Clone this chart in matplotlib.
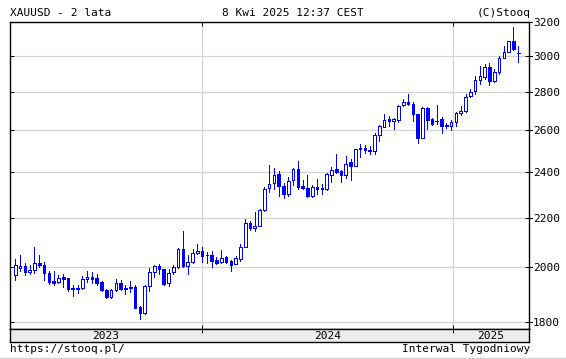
import matplotlib
matplotlib.use("Agg")
import matplotlib.pyplot as plt
from matplotlib.patches import Rectangle
import pandas as pd

# ---- data: weekly XAUUSD candles (week starting Monday) ----
first_week = "2023-04-03"
opens = [1970, 1997, 2005, 1982, 1988, 2016, 2010, 1978, 1947, 1943,
         1962, 1958, 1923, 1924, 1922, 1954, 1963, 1959, 1944, 1915,
         1890, 1914, 1941, 1918, 1922, 1925, 1852, 1833, 1930, 1981,
         2006, 1994, 1939, 1981, 2002, 2073, 2005, 2019, 2054, 2063,
         2048, 2048, 2030, 2022, 2039, 2024, 2014, 2034, 2081, 2177,
         2155, 2166, 2233, 2329, 2350, 2390, 2336, 2302, 2362, 2416,
         2338, 2328, 2294, 2333, 2326, 2325, 2388, 2413, 2405, 2386,
         2448, 2430, 2514, 2512, 2505, 2498, 2579, 2618, 2657, 2645,
         2652, 2728, 2744, 2737, 2684, 2563, 2716, 2656, 2645, 2656,
         2629, 2623, 2644, 2686, 2700, 2775, 2805, 2861, 2882, 2936,
         2858, 2910, 2984, 3022, 3084, 3018]
highs = [2032, 2048, 2015, 2009, 2079, 2048, 2022, 1986, 1984, 1970,
         1975, 1959, 1935, 1933, 1966, 1987, 1982, 1974, 1948, 1918,
         1918, 1955, 1953, 1932, 1947, 1934, 1856, 1932, 1998, 2009,
         2012, 1994, 1994, 2008, 2075, 2144, 2047, 2071, 2090, 2079,
         2060, 2062, 2039, 2066, 2044, 2030, 2043, 2090, 2195, 2186,
         2223, 2236, 2332, 2431, 2418, 2407, 2350, 2376, 2420, 2450,
         2364, 2387, 2340, 2368, 2346, 2394, 2423, 2483, 2411, 2477,
         2462, 2510, 2532, 2528, 2525, 2586, 2625, 2685, 2672, 2661,
         2727, 2763, 2790, 2745, 2685, 2721, 2721, 2664, 2728, 2670,
         2636, 2650, 2692, 2725, 2786, 2817, 2886, 2942, 2955, 2956,
         2926, 3000, 3057, 3086, 3167, 3057]
lows = [1953, 1985, 1970, 1976, 1978, 2000, 1953, 1936, 1935, 1939,
        1925, 1913, 1893, 1903, 1917, 1946, 1942, 1933, 1911, 1885,
        1884, 1910, 1914, 1902, 1908, 1849, 1810, 1830, 1910, 1964,
        1975, 1932, 1931, 1973, 1999, 2002, 1975, 2015, 2050, 2022,
        2015, 2002, 2011, 2015, 2015, 1985, 2011, 2025, 2078, 2148,
        2146, 2163, 2226, 2310, 2325, 2292, 2285, 2292, 2340, 2325,
        2323, 2287, 2290, 2300, 2300, 2320, 2353, 2398, 2356, 2372,
        2365, 2428, 2472, 2492, 2485, 2486, 2546, 2616, 2623, 2605,
        2642, 2722, 2728, 2645, 2537, 2561, 2608, 2626, 2630, 2588,
        2612, 2604, 2621, 2678, 2692, 2771, 2788, 2840, 2868, 2837,
        2852, 2896, 2990, 3025, 3031, 2962]
closes = [2007, 2004, 1982, 1990, 2017, 2010, 1977, 1944, 1942, 1958,
          1955, 1918, 1920, 1920, 1955, 1962, 1955, 1939, 1915, 1890,
          1915, 1942, 1917, 1922, 1925, 1851, 1833, 1928, 1981, 2006,
          1992, 1938, 1980, 2003, 2072, 2004, 2019, 2054, 2063, 2043,
          2047, 2026, 2018, 2036, 2022, 2010, 2035, 2081, 2177, 2155,
          2166, 2233, 2323, 2344, 2388, 2338, 2302, 2360, 2415, 2334,
          2327, 2293, 2333, 2323, 2325, 2391, 2412, 2400, 2385, 2440,
          2428, 2507, 2510, 2502, 2498, 2579, 2620, 2652, 2645, 2655,
          2722, 2746, 2735, 2684, 2563, 2712, 2654, 2632, 2649, 2624,
          2620, 2644, 2686, 2700, 2772, 2800, 2861, 2883, 2933, 2858,
          2910, 2984, 3022, 3084, 3037, 3013]
y_ticks = [1800, 2000, 2200, 2400, 2600, 2800, 3000, 3200]
year_labels = ["2023", "2024", "2025"]
title_left = "XAUUSD - 2 lata"
title_mid = "8 Kwi 2025 12:37 CEST"
title_right = "(C)Stooq"
foot_left = "https://stooq.pl/"
foot_right = "Interwal Tygodniowy"

# ---- figure ----
W, H = 566, 359
fig = plt.figure(figsize=(W / 100, H / 100), dpi=100)
fig.patch.set_facecolor("white")
FONT = dict(family="DejaVu Sans Mono", size=8, color="black")
PX = 0.72  # one pixel in points

def fx(px):
    return px / W

def fy(py):
    return 1 - py / H

L, R, T, B = 9.8, 529.0, 22.0, 329.0
ax = fig.add_axes([fx(L), fy(B), fx(R - L), fy(T) - fy(B)])
ax.set_yscale("log")
ax.set_ylim(1777, 3200)
ax.set_xlim(-1.15, 107.25)

BLUE = "#0000ff"
n = len(opens)
bw = 0.55
for i in range(n):
    o, h, l, c = opens[i], highs[i], lows[i], closes[i]
    ax.plot([i, i], [l, h], color=BLUE, lw=PX, solid_capstyle="butt",
            zorder=3, antialiased=False)
    lo, hi = min(o, c), max(o, c)
    fc = BLUE if c < o else "white"
    ax.add_patch(Rectangle((i - bw / 2, lo), bw, hi - lo, facecolor=fc,
                           edgecolor=BLUE, lw=PX, zorder=4, antialiased=False))

# year boundaries
dates = pd.date_range(first_week, periods=n, freq="7D")
t0 = dates[0]
year_pos = []
for y in (2024, 2025):
    year_pos.append((pd.Timestamp(f"{y}-01-01") - t0).days / 7)

ax.set_yticks(y_ticks)
ax.set_yticklabels([])
ax.yaxis.set_minor_locator(matplotlib.ticker.NullLocator())
ax.yaxis.set_minor_formatter(matplotlib.ticker.NullFormatter())
ax.set_xticks(year_pos)
ax.set_xticklabels([])
ax.grid(True, color="#d3d3d3", lw=PX * 1.2, zorder=0)
ax.set_axisbelow(True)
ax.tick_params(axis="y", which="major", left=True, right=True, direction="in",
               length=3, width=PX, color="black")
ax.tick_params(axis="x", which="major", bottom=True, top=True, direction="in",
               length=3, width=PX, color="black")
for s in ax.spines.values():
    s.set_color("black")
    s.set_linewidth(1.0)

# right-side outward ticks and labels
for v in y_ticks:
    ax.plot([1.0, 1.006], [v, v], transform=ax.get_yaxis_transform(),
            color="black", lw=PX, clip_on=False)
    ax.text(1.0075, v, str(v), transform=ax.get_yaxis_transform(),
            ha="left", va="center_baseline", **FONT)

# year band
band = fig.add_axes([fx(L), fy(342), fx(R - L), fy(B) - fy(342)])
band.set_facecolor("#ececec")
band.set_xlim(ax.get_xlim())
band.set_ylim(0, 1)
band.set_xticks(year_pos)
band.set_xticklabels([])
band.set_yticks([])
band.tick_params(axis="x", direction="in", length=3, width=PX, top=True,
                 bottom=False, color="black")
for s in band.spines.values():
    s.set_color("black")
    s.set_linewidth(1.0)
xl = ax.get_xlim()
edges = [xl[0]] + year_pos + [xl[1]]
for k, lab in enumerate(year_labels):
    band.text((edges[k] + edges[k + 1]) / 2, 0.45, lab, ha="center",
              va="center", **FONT)

# header / footer
fig.text(fx(L), fy(13), title_left, ha="left", va="center", **FONT)
fig.text(fx(293), fy(13), title_mid, ha="center", va="center", **FONT)
fig.text(fx(530.5), fy(13), title_right, ha="right", va="center", **FONT)
fig.text(fx(L), fy(349.5), foot_left, ha="left", va="center", **FONT)
fig.text(fx(530.5), fy(349.5), foot_right, ha="right", va="center", **FONT)
fig.add_artist(plt.Line2D([0, 1], [fy(358), fy(358)], color="#d3d3d3",
                          lw=1, transform=fig.transFigure))

fig.savefig("out.png", dpi=100, facecolor="white")
